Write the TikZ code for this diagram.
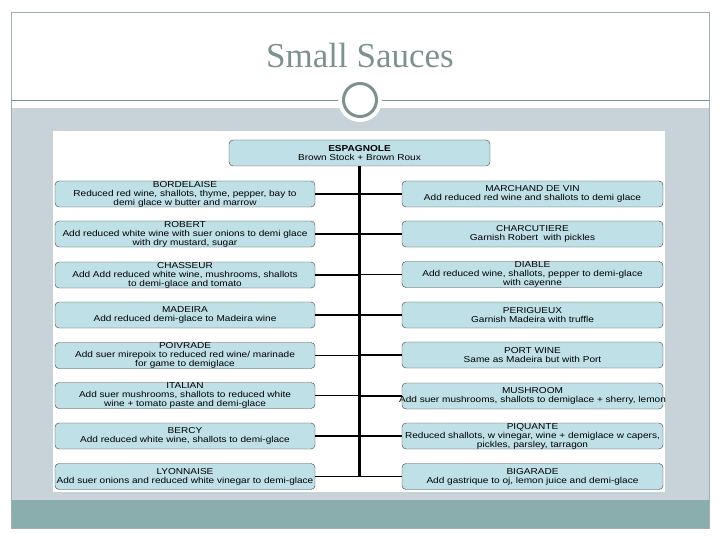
\documentclass[tikz,border=0pt]{standalone}
\usepackage{fontspec}
\setsansfont{Liberation Sans}
\newfontfamily\titlefont{Liberation Serif}
\newfontfamily\boxfont[FakeStretch=1.17]{Liberation Sans}
\definecolor{sauceBlue}{RGB}{190,224,230}
\definecolor{slideBand}{RGB}{200,211,217}
\definecolor{slideTeal}{RGB}{138,173,173}
\definecolor{slideGray}{RGB}{125,145,145}
\definecolor{frameGray}{RGB}{160,175,175}
\newcommand{\wideline}[1]{\makebox[240pt]{#1}}

\tikzset{
  sauce/.style={draw=black!75, fill=sauceBlue, rounded corners=4pt,
                minimum width=260pt, minimum height=26pt, inner sep=0pt,
                align=center, font=\boxfont\fontsize{8.6}{9}\selectfont},
  trunk/.style={line width=2.2pt},
  branch/.style={line width=1.3pt},
}

\begin{document}
\begin{tikzpicture}[x=1pt, y=-1pt]
        \useasboundingbox (0,0) rectangle (720,540);

        % Slide background and bands
        \fill[slideBand] (11,108) rectangle (709,500);
        \fill[slideTeal] (11,500) rectangle (709,528);
        \draw[frameGray, line width=0.6pt] (11,12) rectangle (709,528);
        \draw[slideGray, line width=0.8pt] (11,100) -- (709,100);
        \fill[white] (360,100) circle (22);
        \draw[slideGray, line width=3pt] (360,100) circle (16.5);

        % Title
        \node[font=\titlefont\fontsize{35}{38}\selectfont, text=slideGray] (title) at (360,56) {Small Sauces};

        % Chart area
        \fill[white] (53,131) rectangle (665,492);

        % Mother sauce
        \node[sauce, minimum width=261pt] (esp) at (359.5,153)
            {\textbf{ESPAGNOLE}\\Brown Stock + Brown Roux};

        % Small sauces on the left
        \node[sauce] (bord) at (185,194) {BORDELAISE\\Reduced red wine, shallots, thyme, pepper, bay to\\demi glace w butter and marrow};
        \node[sauce] (robert) at (185,234) {ROBERT\\\wideline{Add reduced white wine with suer onions to demi glace}\\with dry mustard, sugar};
        \node[sauce] (chass) at (185,275) {CHASSEUR\\Add Add reduced white wine, mushrooms, shallots\\to demi-glace and tomato};
        \node[sauce] (madeira) at (185,315) {MADEIRA\\Add reduced demi-glace to Madeira wine};
        \node[sauce] (poivr) at (185,355.5) {POIVRADE\\Add suer mirepoix to reduced red wine/ marinade\\for game to demiglace};
        \node[sauce] (italian) at (185,395.5) {ITALIAN\\Add suer mushrooms, shallots to reduced white\\wine + tomato paste and demi-glace};
        \node[sauce] (bercy) at (185,436) {BERCY\\Add reduced white wine, shallots to demi-glace};
        \node[sauce] (lyon) at (185,476.5) {LYONNAISE\\\wideline{Add suer onions and reduced white vinegar to demi-glace}};

        % Small sauces on the right
        \node[sauce, minimum width=261pt] (march) at (532.5,194) {MARCHAND DE VIN\\Add reduced red wine and shallots to demi glace};
        \node[sauce, minimum width=261pt] (charc) at (532.5,234) {CHARCUTIERE\\Garnish Robert\ \ with pickles};
        \node[sauce, minimum width=261pt] (diable) at (532.5,274.5) {DIABLE\\Add reduced wine, shallots, pepper to demi-glace\\with cayenne};
        \node[sauce, minimum width=261pt] (perig) at (532.5,315) {PERIGUEUX\\Garnish Madeira with truffle};
        \node[sauce, minimum width=261pt] (port) at (532.5,355) {PORT WINE\\Same as Madeira but with Port};
        \node[sauce, minimum width=261pt] (mush) at (532.5,396) {MUSHROOM\\\wideline{Add suer mushrooms, shallots to demiglace + sherry, lemon}};
        \node[sauce, minimum width=261pt] (piq) at (532.5,436) {PIQUANTE\\\wideline{Reduced shallots, w vinegar, wine + demiglace w capers,}\\pickles, parsley, tarragon};
        \node[sauce, minimum width=261pt] (bigar) at (532.5,476.5) {BIGARADE\\Add gastrique to oj, lemon juice and demi-glace};

        % Trunk from the mother sauce
        \coordinate (trunkend) at (lyon.east -| esp.south);
        \draw[trunk] (esp.south) -- (trunkend);

        % Branches to the trunk
        \draw[branch] (bord.east) -- (bord.east -| esp.south);
        \draw[branch] (robert.east) -- (robert.east -| esp.south);
        \draw[branch] (chass.east) -- (chass.east -| esp.south);
        \draw[branch] (madeira.east) -- (madeira.east -| esp.south);
        \draw[branch] (poivr.east) -- (poivr.east -| esp.south);
        \draw[branch] (italian.east) -- (italian.east -| esp.south);
        \draw[branch] (bercy.east) -- (bercy.east -| esp.south);
        \draw[branch] (lyon.east) -- (trunkend);
        \draw[branch] (march.west) -- (march.west -| esp.south);
        \draw[branch] (charc.west) -- (charc.west -| esp.south);
        \draw[branch] (diable.west) -- (diable.west -| esp.south);
        \draw[branch] (perig.west) -- (perig.west -| esp.south);
        \draw[branch] (port.west) -- (port.west -| esp.south);
        \draw[branch] (mush.west) -- (mush.west -| esp.south);
        \draw[branch] (piq.west) -- (piq.west -| esp.south);
        \draw[branch] (bigar.west) -- (bigar.west -| esp.south);
\end{tikzpicture}
\end{document}
